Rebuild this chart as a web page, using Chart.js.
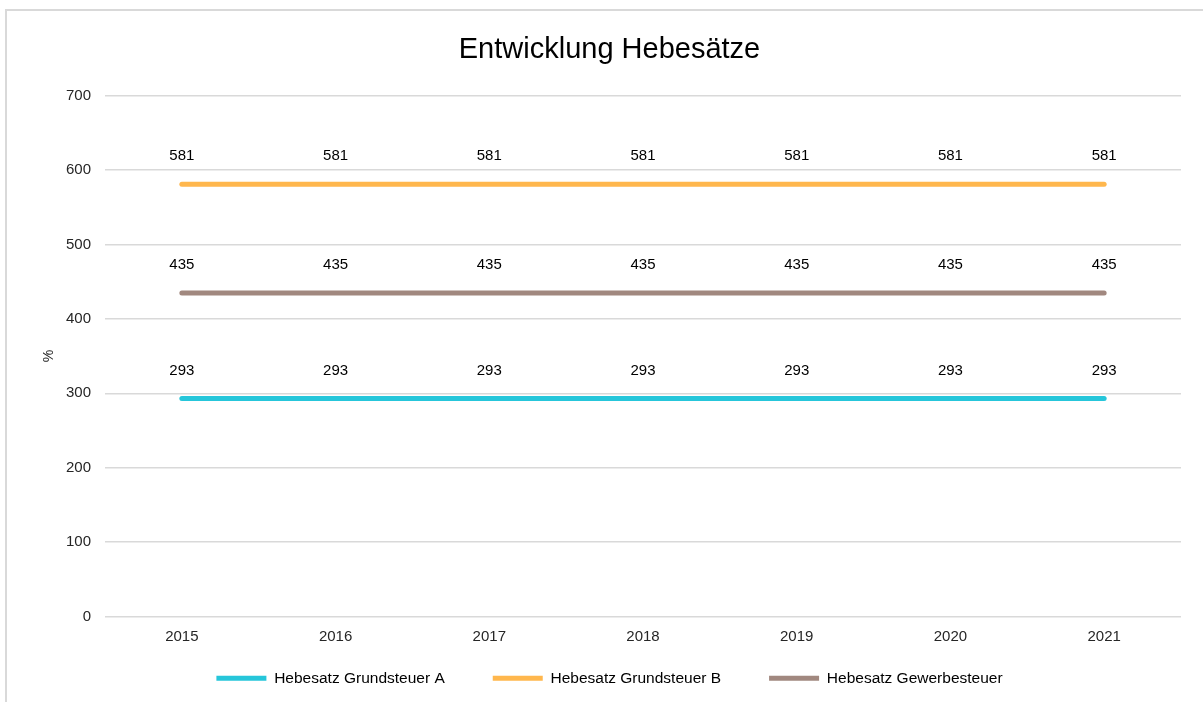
<!DOCTYPE html>
<html>
<head>
<meta charset="utf-8">
<script src="https://cdn.jsdelivr.net/npm/chart.js@4/dist/chart.umd.min.js"></script>
<style>
  html, body { margin: 0; padding: 0; background: #fff; overflow: hidden; }
  #frame { position: absolute; left: 5px; top: 9px; width: 1300px; height: 800px; border: 2px solid #D9D9D9; box-sizing: border-box; }
  #wrap { position: absolute; left: 0; top: 0; width: 1203px; height: 702px; }
</style>
</head>
<body>
<div id="frame"></div>
<div id="wrap"><canvas id="myChart"></canvas></div>
<script>
var years = ["2015", "2016", "2017", "2018", "2019", "2020", "2021"];
var grundsteuerA = [293, 293, 293, 293, 293, 293, 293];
var grundsteuerB = [581, 581, 581, 581, 581, 581, 581];
var gewerbesteuer = [435, 435, 435, 435, 435, 435, 435];
var seriesNames = ["Hebesatz Grundsteuer A", "Hebesatz Grundsteuer B", "Hebesatz Gewerbesteuer"];

Chart.defaults.font.family = "'Liberation Sans', Arial, sans-serif";
Chart.defaults.color = '#262626';

// draws the value above every point
var valueLabels = {
    id: 'valueLabels',
    afterDatasetsDraw: function (chart) {
        var c = chart.ctx;
        c.save();
        c.font = "15px 'Liberation Sans', Arial, sans-serif";
        c.fillStyle = '#000';
        c.textAlign = 'center';
        c.textBaseline = 'middle';
        chart.data.datasets.forEach(function (ds, i) {
            chart.getDatasetMeta(i).data.forEach(function (pt, j) {
                c.fillText(ds.data[j], pt.x, pt.y - 28);
            });
        });
        c.restore();
    }
};

// legend: wide gaps between items but less empty space above it
var legendShift = 32;
var legendTweak = {
    id: 'legendTweak',
    afterInit: function (chart) {
        var lg = chart.legend;
        var fit = lg.fit;
        lg.fit = function () { fit.call(this); this.height -= legendShift; };
        var draw = lg.draw;
        lg.draw = function () { this.top -= legendShift; draw.call(this); this.top += legendShift; };
    }
};

function line(label, data, color) {
    return {
        label: label,
        data: data,
        borderColor: color,
        backgroundColor: color,
        borderWidth: 5,
        borderCapStyle: 'round',
        pointRadius: 0,
        pointHoverRadius: 0,
        fill: false
    };
}

var ctx = document.getElementById("myChart");
var myChart = new Chart(ctx, {
    type: 'line',
    data: {
        labels: years,
        datasets: [
            line(seriesNames[0], grundsteuerA, '#26C6DA'),
            line(seriesNames[1], grundsteuerB, '#FFB74D'),
            line(seriesNames[2], gewerbesteuer, '#A1887F')
        ]
    },
    plugins: [valueLabels, legendTweak],
    options: {
        responsive: true,
        maintainAspectRatio: false,
        animation: false,
        layout: { padding: { left: 38, right: 22, top: 22, bottom: 6 } },
        plugins: {
            title: {
                display: true,
                text: 'Entwicklung Hebesätze',
                color: '#000',
                font: { size: 29, weight: 'normal' },
                padding: { top: 11, bottom: 28 }
            },
            legend: {
                position: 'bottom',
                labels: {
                    usePointStyle: true,
                    pointStyle: 'line',
                    pointStyleWidth: 50,
                    boxHeight: 15,
                    padding: 48,
                    color: '#000',
                    font: { size: 15.5 }
                }
            },
            tooltip: { enabled: false }
        },
        scales: {
            x: {
                offset: true,
                grid: { display: false },
                border: { display: false },
                ticks: { padding: 3, font: { size: 15 } },
                afterFit: function (scale) { scale.height = 38; }
            },
            y: {
                min: 0,
                max: 700,
                ticks: { stepSize: 100, padding: 14, font: { size: 15 } },
                grid: { color: '#D9D9D9', lineWidth: 1.5, drawTicks: false },
                border: { display: false },
                title: { display: true, text: '%', font: { size: 14 }, padding: 3 },
                afterFit: function (scale) { scale.width = 67; }
            }
        }
    }
});
</script>
</body>
</html>
